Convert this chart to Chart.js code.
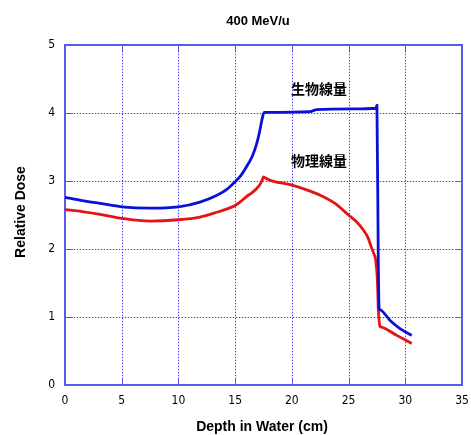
<!DOCTYPE html>
<html>
<head>
<meta charset="utf-8">
<script src="https://cdn.jsdelivr.net/npm/chart.js@4"></script>
<style>
  html, body { margin: 0; padding: 0; background: #fff; }
  #wrap { width: 471px; height: 435px; }
</style>
</head>
<body>
<div id="wrap"><canvas id="grafico" width="471" height="435"></canvas></div>
<script>
// valores
const profBio  = [0, 1.5, 3.1, 5, 7.5, 10, 11.9, 13.4, 14.3, 15, 15.5, 16, 16.5, 16.9, 17.15, 17.35, 17.55, 17.7, 21.6, 22.2, 25.4, 27.4, 27.5, 27.62, 27.7, 27.75, 28.66, 29.54, 30.57];
const doseBio  = [2.76, 2.71, 2.67, 2.62, 2.60, 2.62, 2.69, 2.79, 2.88, 2.99, 3.08, 3.21, 3.36, 3.55, 3.72, 3.89, 4.01, 4.01, 4.02, 4.05, 4.06, 4.07, 4.11, 1.80, 1.12, 1.11, 0.95, 0.83, 0.73];
const profFis  = [0, 1.5, 3.1, 5, 7.5, 10, 11.9, 13.4, 14.3, 15, 15.5, 16, 16.5, 16.9, 17.2, 17.45, 17.5, 17.6, 18.1, 20, 21.3, 22.5, 23.8, 25, 25.7, 26.3, 26.7, 27.0, 27.25, 27.4, 27.54, 27.63, 27.78, 27.83, 29.25, 30.57];
const doseFis  = [2.58, 2.55, 2.51, 2.45, 2.41, 2.43, 2.47, 2.54, 2.59, 2.64, 2.70, 2.77, 2.83, 2.89, 2.95, 3.04, 3.06, 3.05, 3.01, 2.94, 2.87, 2.79, 2.67, 2.50, 2.40, 2.28, 2.17, 2.03, 1.92, 1.83, 1.54, 1.10, 0.86, 0.855, 0.73, 0.61];
const ticksX = [0, 5, 10, 15, 20, 25, 30, 35];
const ticksY = [0, 1, 2, 3, 4, 5];
const titulo = '400 MeV/u';
const tituloX = 'Depth in Water (cm)';
const tituloY = 'Relative Dose';
const rotulos = [
  { texto: '生物線量', x: 22.4, y: 4.36 },
  { texto: '物理線量', x: 22.4, y: 3.30 }
];

function pontos(xs, ys) {
  return xs.map((x, i) => ({ x: x, y: ys[i] }));
}

const azulGrade = 'rgb(60, 60, 245)';
const azulGradeFundo = 'rgba(120, 120, 255, 0.3)';
const azulBorda = '#5a5ae6';

// grade pontilhada, moldura, marcas internas e textos
function linhasGrade(ctx, chart) {
  const a = chart.chartArea;
  const sx = chart.scales.x, sy = chart.scales.y;
  ticksY.forEach(v => {
    const py = Math.round(sy.getPixelForValue(v)) + 0.5;
    ctx.beginPath();
    ctx.moveTo(a.left, py); ctx.lineTo(a.right, py);
    ctx.stroke();
  });
  ticksX.forEach(v => {
    const px = Math.round(sx.getPixelForValue(v)) + 0.5;
    ctx.beginPath();
    ctx.moveTo(px, a.top); ctx.lineTo(px, a.bottom);
    ctx.stroke();
  });
}

const extras = {
  id: 'extras',
  beforeDatasetsDraw(chart) {
    const ctx = chart.ctx;
    const a = chart.chartArea;
    const sx = chart.scales.x, sy = chart.scales.y;
    ctx.save();
    ctx.lineWidth = 1;
    ctx.strokeStyle = azulGradeFundo;
    linhasGrade(ctx, chart);
    ctx.strokeStyle = azulGrade;
    ctx.setLineDash([1, 2]);
    linhasGrade(ctx, chart);
    ctx.setLineDash([]);
    // marcas
    ctx.strokeStyle = azulBorda;
    ticksY.forEach(v => {
      const py = Math.round(sy.getPixelForValue(v)) + 0.5;
      ctx.beginPath();
      ctx.moveTo(a.left, py); ctx.lineTo(a.left + 8, py);
      ctx.moveTo(a.right, py); ctx.lineTo(a.right - 7, py);
      ctx.stroke();
    });
    ticksX.forEach(v => {
      const px = Math.round(sx.getPixelForValue(v)) + 0.5;
      ctx.beginPath();
      ctx.moveTo(px, a.top); ctx.lineTo(px, a.top + 6);
      ctx.moveTo(px, a.bottom); ctx.lineTo(px, a.bottom - 6);
      ctx.stroke();
    });
    ctx.lineWidth = 2;
    ctx.strokeRect(a.left, a.top, a.right - a.left, a.bottom - a.top);
    ctx.restore();
  },
  afterDraw(chart) {
    const ctx = chart.ctx;
    const sx = chart.scales.x, sy = chart.scales.y;
    ctx.save();
    ctx.fillStyle = '#000';
    ctx.textAlign = 'center';
    ctx.textBaseline = 'middle';
    ctx.font = 'bold 13px "Liberation Sans", Arial, sans-serif';
    ctx.fillText(titulo, 258, 21);
    ctx.font = 'bold 14px "Liberation Sans", Arial, sans-serif';
    ctx.fillText(tituloX, 262, 427);
    ctx.save();
    ctx.translate(21, 212);
    ctx.rotate(-Math.PI / 2);
    ctx.fillText(tituloY, 0, 0);
    ctx.restore();
    ctx.font = 'bold 14px "Noto Sans CJK JP", sans-serif';
    rotulos.forEach(r => {
      ctx.fillText(r.texto, sx.getPixelForValue(r.x), sy.getPixelForValue(r.y));
    });
    ctx.restore();
  }
};

const fonteTicks = { family: '"Liberation Sans Narrow", "DejaVu Sans Condensed", "Liberation Sans", sans-serif', size: 12 };

new Chart(document.getElementById('grafico').getContext('2d'), {
  type: 'scatter',
  data: {
    datasets: [
      {
        label: '生物線量',
        data: pontos(profBio, doseBio),
        showLine: true,
        borderColor: '#0a10d8',
        borderWidth: 2.8,
        pointRadius: 0,
        cubicInterpolationMode: 'monotone'
      },
      {
        label: '物理線量',
        data: pontos(profFis, doseFis),
        showLine: true,
        borderColor: '#e41414',
        borderWidth: 2.8,
        pointRadius: 0,
        cubicInterpolationMode: 'monotone'
      }
    ]
  },
  options: {
    responsive: false,
    animation: false,
    layout: { padding: { top: 45, right: 9, left: 0, bottom: 0 } },
    plugins: { legend: { display: false }, tooltip: { enabled: false }, title: { display: false } },
    scales: {
      x: {
        type: 'linear',
        min: 0, max: 35,
        afterBuildTicks: s => { s.ticks = ticksX.map(v => ({ value: v })); },
        afterFit: s => { s.height = 50; s.paddingLeft = 0; s.paddingRight = 0; },
        ticks: { padding: 9, color: '#000', font: fonteTicks, maxRotation: 0 },
        grid: { display: false, drawTicks: false },
        border: { display: false }
      },
      y: {
        type: 'linear',
        min: 0, max: 5,
        afterBuildTicks: s => { s.ticks = ticksY.map(v => ({ value: v })); },
        afterFit: s => { s.width = 65; s.paddingTop = 0; s.paddingBottom = 0; },
        ticks: { padding: 10, color: '#000', font: fonteTicks },
        grid: { display: false, drawTicks: false },
        border: { display: false }
      }
    }
  },
  plugins: [extras]
});
</script>
</body>
</html>
